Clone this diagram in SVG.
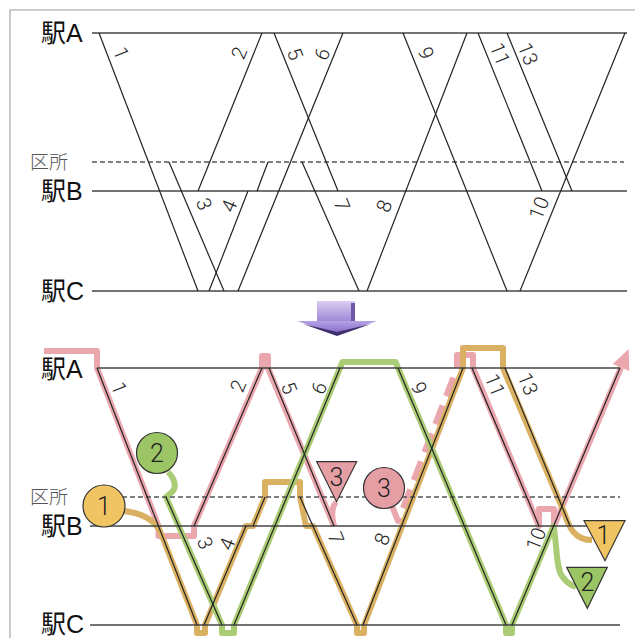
<svg xmlns="http://www.w3.org/2000/svg" width="635" height="638" viewBox="0 0 635 638">
  <defs>
    <style>
      .frame { fill: none; stroke: #bdbdbd; stroke-width: 1.6; }
      .st { font-family: "Liberation Sans", "Noto Sans CJK JP", sans-serif; font-size: 25px; fill: #111; }
      .dep { font-family: "Noto Sans CJK JP", sans-serif; font-size: 19px; font-weight: 300; fill: #555; }
      .num { font-family: Roboto, "Liberation Sans", sans-serif; font-size: 20px; font-weight: 300; fill: #222; text-anchor: middle; }
      .big { font-family: Roboto, "Liberation Sans", sans-serif; font-size: 25px; font-weight: 300; fill: #222; text-anchor: middle; }
      .hl { stroke: #444; stroke-width: 1.4; fill: none; }
      .dash { stroke: #555; stroke-width: 1.6; stroke-dasharray: 5 3; fill: none; }
      .tr { stroke: #222; stroke-width: 1.2; fill: none; }
      .v { fill: none; stroke-width: 6; stroke-linejoin: round; stroke-linecap: butt; }
      .pink { stroke: #eba7ae; }
      .green { stroke: #a9cc74; }
      .yellow { stroke: #dab162; }
      .mark { stroke: #333; stroke-width: 1.2; }
    </style>
    <linearGradient id="shaft" x1="0" y1="0" x2="0" y2="1">
      <stop offset="0" stop-color="#d9cdf2"/>
      <stop offset="1" stop-color="#9e86d6"/>
    </linearGradient>
    <linearGradient id="head" x1="0" y1="0" x2="0" y2="1">
      <stop offset="0" stop-color="#b7a3e6"/>
      <stop offset="1" stop-color="#7c62c0"/>
    </linearGradient>
  </defs>

  <rect width="635" height="638" fill="#fff"/>
  <path class="frame" d="M10,638 V10 H635"/>

  <!-- ===== upper chart: timetable ===== -->
  <g id="upper-stations">
    <text class="st" x="41" y="42">駅A</text>
    <text class="dep" x="30" y="169">区所</text>
    <text class="st" x="41" y="200">駅B</text>
    <text class="st" x="41" y="300">駅C</text>
    <line class="hl" x1="92" y1="33" x2="627" y2="33"/>
    <line class="dash" x1="92" y1="162" x2="624" y2="162"/>
    <line class="hl" x1="92" y1="191" x2="627" y2="191"/>
    <line class="hl" x1="92" y1="291" x2="627" y2="291"/>
  </g>

  <g id="upper-trains">
    <line class="tr" x1="99" y1="33" x2="198" y2="291"/>
    <line class="tr" x1="262" y1="33" x2="198" y2="191"/>
    <line class="tr" x1="169" y1="162" x2="224" y2="291"/>
    <line class="tr" x1="209" y1="291" x2="248" y2="191"/>
    <line class="tr" x1="257" y1="191" x2="268" y2="162"/>
    <line class="tr" x1="274" y1="33" x2="338" y2="191"/>
    <line class="tr" x1="343" y1="33" x2="238" y2="291"/>
    <line class="tr" x1="302" y1="162" x2="359" y2="291"/>
    <line class="tr" x1="367" y1="291" x2="467" y2="33"/>
    <line class="tr" x1="403" y1="33" x2="507" y2="291"/>
    <line class="tr" x1="520" y1="291" x2="625" y2="33"/>
    <line class="tr" x1="478" y1="33" x2="542" y2="191"/>
    <line class="tr" x1="507" y1="33" x2="572" y2="191"/>
  </g>

  <g id="upper-numbers">
    <text class="num" transform="translate(121,53) rotate(68)" y="7">1</text>
    <text class="num" transform="translate(239,53) rotate(-68)" y="7">2</text>
    <text class="num" transform="translate(295,54) rotate(68)" y="7">5</text>
    <text class="num" transform="translate(322,54) rotate(-68)" y="7">6</text>
    <text class="num" transform="translate(426,53) rotate(68)" y="7">9</text>
    <text class="num" transform="translate(500,54) rotate(68)" y="7">11</text>
    <text class="num" transform="translate(528,54) rotate(68)" y="7">13</text>
    <text class="num" transform="translate(204,204) rotate(68)" y="7">3</text>
    <text class="num" transform="translate(229,206) rotate(-68)" y="7">4</text>
    <text class="num" transform="translate(342,205) rotate(68)" y="7">7</text>
    <text class="num" transform="translate(384,206) rotate(-68)" y="7">8</text>
    <text class="num" transform="translate(539,208) rotate(-68)" y="7">10</text>
  </g>

  <!-- ===== block arrow ===== -->
  <g id="down-arrow">
    <rect x="317" y="301" width="38" height="21" fill="url(#shaft)"/>
    <rect x="351" y="303" width="4" height="19" fill="#6f58a8"/>
    <polygon points="297,321 377,321 337,335" fill="url(#head)"/>
    <polygon points="303,324 337,336 371,324 337,332" fill="#3e2f6e"/>
  </g>

  <!-- ===== lower chart: vehicle rotation ===== -->
  <g id="rotation-paths">
    <path class="v pink" d="M44,351 H97 V368 L158.5,526 V536 H194 V526 L262,368 V356 H268 V368 L334,526"/>
    <path class="v pink" d="M334,526 C331,515 332,507 336,502"/>
    <path class="v pink" stroke-dasharray="20 10" d="M392,506 L398,521 L457,368"/>
    <path class="v pink" d="M457,368 V355 H473 V368 L539,526 V509 H554 V526 L621,367.5"/>
    <polygon points="628.7,349.1 629.3,371 612.7,364" fill="#eba7ae"/>
    <path class="v yellow" d="M124,511 C142,513 154,520 160,531 L197,625 V633 H205 V625 L246,526 H253 L265,497 V482 H300 V497 L306,526 H313 L357,625 V633 H364 V625 L463,368 V348 H503 V368 L564,512 C569,527 574,540 592,540"/>
    <path class="v green" d="M168,472 C175,479 177,487 172,492 L166,497 L222,625 V633 H234 V625 L342.5,362 H395.5 L506,625 V633 H512 V625 L553.6,526 C557,545 556,568 562,576 C566,582 570,585 576,587"/>
  </g>

  <g id="lower-stations">
    <text class="st" x="41" y="378">駅A</text>
    <text class="dep" x="30" y="504">区所</text>
    <text class="st" x="41" y="535">駅B</text>
    <text class="st" x="41" y="633">駅C</text>
    <line class="hl" x1="97" y1="368" x2="620" y2="368"/>
    <line class="dash" x1="90" y1="497" x2="620" y2="497"/>
    <line class="hl" x1="90" y1="526" x2="622" y2="526"/>
    <line class="hl" x1="90" y1="625" x2="620" y2="625"/>
  </g>

  <g id="lower-trains">
    <line class="tr" x1="97" y1="368" x2="197" y2="625"/>
    <line class="tr" x1="194" y1="526" x2="262" y2="368"/>
    <line class="tr" x1="166" y1="497" x2="222" y2="625"/>
    <line class="tr" x1="204" y1="625" x2="246" y2="526"/>
    <line class="tr" x1="253" y1="526" x2="265" y2="497"/>
    <line class="tr" x1="269" y1="368" x2="334" y2="526"/>
    <line class="tr" x1="340" y1="368" x2="234" y2="625"/>
    <line class="tr" x1="300" y1="497" x2="357" y2="625"/>
    <line class="tr" x1="363" y1="625" x2="463" y2="368"/>
    <line class="tr" x1="398" y1="368" x2="506" y2="625"/>
    <line class="tr" x1="512" y1="625" x2="620" y2="368"/>
    <line class="tr" x1="472" y1="368" x2="539" y2="526"/>
    <line class="tr" x1="505" y1="368" x2="570" y2="526"/>
  </g>

  <g id="lower-numbers">
    <text class="num" transform="translate(119,388) rotate(68)" y="7">1</text>
    <text class="num" transform="translate(238,386) rotate(-68)" y="7">2</text>
    <text class="num" transform="translate(289,388) rotate(68)" y="7">5</text>
    <text class="num" transform="translate(319,388) rotate(-68)" y="7">6</text>
    <text class="num" transform="translate(419,388) rotate(68)" y="7">9</text>
    <text class="num" transform="translate(495,385) rotate(68)" y="7">11</text>
    <text class="num" transform="translate(528,384) rotate(68)" y="7">13</text>
    <text class="num" transform="translate(205,543) rotate(68)" y="7">3</text>
    <text class="num" transform="translate(227,544) rotate(-68)" y="7">4</text>
    <text class="num" transform="translate(336,538) rotate(68)" y="7">7</text>
    <text class="num" transform="translate(382,539) rotate(-68)" y="7">8</text>
    <text class="num" transform="translate(536,539) rotate(-68)" y="7">10</text>
  </g>

  <!-- start markers (circles) and end markers (triangles) -->
  <g id="start-1">
    <circle class="mark" cx="104" cy="506" r="21" fill="#f1c463"/>
    <text class="big" x="104" y="515">1</text>
  </g>
  <g id="start-2">
    <circle class="mark" cx="157" cy="453" r="20.5" fill="#9cc565"/>
    <text class="big" x="157" y="462">2</text>
  </g>
  <g id="start-3">
    <circle class="mark" cx="384" cy="488" r="20.5" fill="#e59fa4"/>
    <text class="big" x="384" y="497">3</text>
  </g>
  <g id="end-3">
    <polygon class="mark" points="316.7,461.7 356.7,461.7 336.5,501.7" fill="#e59fa4"/>
    <text class="big" x="336.5" y="486">3</text>
  </g>
  <g id="end-1">
    <polygon class="mark" points="584,520.7 625,520.7 605,560.7" fill="#f1c463"/>
    <text class="big" x="603.5" y="544.4">1</text>
  </g>
  <g id="end-2">
    <polygon class="mark" points="566.7,567.3 607.3,567.3 587.3,608.3" fill="#9cc565"/>
    <text class="big" x="587.5" y="591">2</text>
  </g>
</svg>
